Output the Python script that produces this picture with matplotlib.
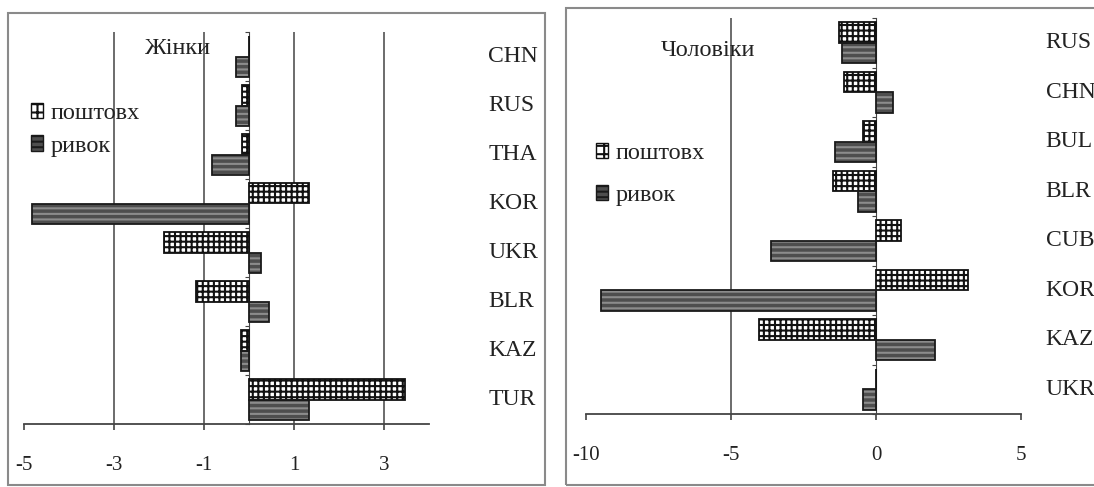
import matplotlib.pyplot as plt
import matplotlib.transforms as mtransforms
from matplotlib.patches import Rectangle, Patch
import numpy as np

plt.rcParams['font.family'] = ['Liberation Serif', 'DejaVu Serif']
plt.rcParams['hatch.linewidth'] = 1.5

# women (Жінки)
women_cats = ['CHN', 'RUS', 'THA', 'KOR', 'UKR', 'BLR', 'KAZ', 'TUR']
women_push = [0.0, -0.16, -0.16, 1.33, -1.89, -1.18, -0.17, 3.47]
women_snatch = [-0.29, -0.29, -0.82, -4.83, 0.27, 0.44, -0.17, 1.33]
women_ticks = [-5, -3, -1, 1, 3]

# men (Чоловіки)
men_cats = ['RUS', 'CHN', 'BUL', 'BLR', 'CUB', 'KOR', 'KAZ', 'UKR']
men_push = [-1.28, -1.12, -0.44, -1.48, 0.87, 3.18, -4.03, 0.0]
men_snatch = [-1.18, 0.57, -1.40, -0.62, -3.61, -9.47, 2.05, -0.44]
men_ticks = [-10, -5, 0, 5]

W, H = 1094.0, 487.0
TXT = '#222222'
fig = plt.figure(figsize=(10.94, 4.87), dpi=100, facecolor='white')


def px(x0, y0, x1, y1):
    # pixel box (top origin) -> figure fraction rect
    return [x0 / W, 1 - y1 / H, (x1 - x0) / W, (y1 - y0) / H]


def drawPanel(box, cats, push, snatch, ticks, xlim, grids, labx, title, titlePt,
              legPt, legSpace):
    ax = fig.add_axes(px(*box))
    n = len(cats)
    y = np.arange(n)
    h = 0.41
    ax.barh(y - h / 2, push, height=h, color='white', edgecolor='#111111',
            hatch='+++', linewidth=0, zorder=3)
    ax.barh(y - h / 2, push, height=h, fill=False, edgecolor='#111111',
            linewidth=1.3, zorder=4)
    ax.barh(y + h / 2, snatch, height=h, color='#4e4e4e', edgecolor='#8c8c8c',
            hatch='---', linewidth=0, zorder=3)
    ax.barh(y + h / 2, snatch, height=h, fill=False, edgecolor='#1a1a1a',
            linewidth=1.3, zorder=4)
    ax.set_ylim(n - 0.5, -0.5)
    ax.set_xlim(*xlim)
    for g in grids:
        ax.axvline(g, color='#444444', lw=1.1, zorder=1)
    for s in ['top', 'right']:
        ax.spines[s].set_visible(False)
    ax.spines['left'].set_position(('data', 0))
    ax.spines['left'].set_color('#444444')
    ax.spines['bottom'].set_color('#444444')
    ax.spines['bottom'].set_linewidth(1.3)
    ax.set_yticks(np.arange(n + 1) - 0.5)
    ax.set_yticklabels([])
    ax.tick_params(axis='y', length=3, color='#444444', direction='out')
    ax.set_xticks(ticks)
    ax.set_xticklabels([str(t) for t in ticks], fontsize=15, color=TXT)
    ax.tick_params(axis='x', length=4, width=1.2, color='#444444', pad=19)
    trans = mtransforms.blended_transform_factory(ax.transAxes, ax.transData)
    for i, c in enumerate(cats):
        ax.text(labx, i, c, transform=trans, ha='left', va='center',
                fontsize=17, color=TXT)
    fig.text(titlePt[0] / W, 1 - titlePt[1] / H, title, ha='center',
             va='center', fontsize=17.5, color=TXT)
    handles = [Patch(facecolor='white', edgecolor='#111111', hatch='++'),
               Patch(facecolor='#4e4e4e', edgecolor='#1a1a1a', hatch='---')]
    fig.legend(handles, ['поштовх', 'ривок'], loc='upper left',
               bbox_to_anchor=(legPt[0] / W, 1 - legPt[1] / H), frameon=False,
               fontsize=17.5, handlelength=0.5, handleheight=0.6,
               handletextpad=0.3, labelspacing=legSpace, borderpad=0,
               borderaxespad=0, labelcolor=TXT)
    return ax


drawPanel((24, 32, 429, 424), women_cats, women_push, women_snatch,
          women_ticks, (-5, 4), [-3, -1, 1, 3], 1.146, 'Жінки', (178, 48),
          (31, 103), 0.45)
drawPanel((586, 18, 1021, 414), men_cats, men_push, men_snatch,
          men_ticks, (-10, 5), [-5], 1.057, 'Чоловіки', (708, 50),
          (596, 143), 0.85)

# panel frames
fig.patches.append(Rectangle((8 / W, 2 / H), 537 / W, 472 / H,
                             transform=fig.transFigure, fill=False,
                             edgecolor='#8a8a8a', lw=1.5))
fig.patches.append(Rectangle((566 / W, 2 / H), 530 / W, 477 / H,
                             transform=fig.transFigure, fill=False,
                             edgecolor='#8a8a8a', lw=1.5))

fig.savefig('out.png', dpi=100, facecolor='white')
